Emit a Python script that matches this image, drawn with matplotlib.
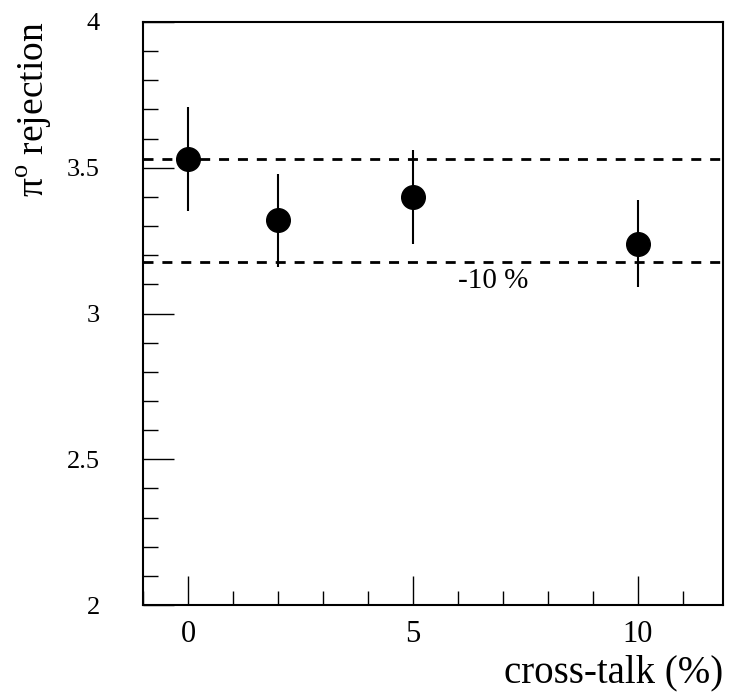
import numpy as np
import matplotlib
matplotlib.use("Agg")
import matplotlib.pyplot as plt
from matplotlib.ticker import MultipleLocator

plt.rcParams['font.family'] = ['Liberation Serif', 'DejaVu Serif']
plt.rcParams['mathtext.fontset'] = 'custom'
plt.rcParams['mathtext.rm'] = 'Liberation Serif'

# data
crosstalk = [0, 2, 5, 10]
rejection = [3.53, 3.32, 3.40, 3.24]
rej_err = [0.18, 0.16, 0.16, 0.15]
ref_level = 3.53
minus10 = 0.9 * ref_level

fig = plt.figure(figsize=(7.29, 6.98), dpi=100)
ax = fig.add_axes([143 / 729, 93 / 698, 580 / 729, 583 / 698])

ax.errorbar(crosstalk, rejection, yerr=rej_err, fmt='o', color='black',
            markersize=17, elinewidth=1.5, capsize=0, zorder=3)

for lvl in (ref_level, minus10):
    ln = ax.axhline(lvl, color='black', lw=2, zorder=2)
    ln.set_dashes([3.6, 3.2])

ax.text(6.0, minus10 - 0.02, '-10 %', fontsize=21, ha='left', va='top')

ax.set_xlim(-1, 11.9)
ax.set_ylim(2, 4)
ax.xaxis.set_major_locator(MultipleLocator(5))
ax.xaxis.set_minor_locator(MultipleLocator(1))
ax.yaxis.set_major_locator(MultipleLocator(0.5))
ax.yaxis.set_minor_locator(MultipleLocator(0.1))
ax.yaxis.set_major_formatter(plt.FuncFormatter(lambda v, p: '%g' % v))

ax.tick_params(axis='both', which='both', direction='in', top=False, right=False,
               width=1.0, color='black')
ax.tick_params(axis='x', which='major', length=21, pad=10.5, labelsize=22)
ax.tick_params(axis='x', which='minor', length=10)
ax.tick_params(axis='y', which='major', length=22, pad=31, labelsize=19)
ax.tick_params(axis='y', which='minor', length=11)

for s in ax.spines.values():
    s.set_linewidth(1.5)

ax.set_xlabel('cross-talk (%)', fontsize=28, loc='right')
ax.xaxis.set_label_coords(1.0, -0.085)
ax.set_ylabel(r'π$^{\mathrm{o}}$ rejection', fontsize=27, loc='top')
ax.yaxis.set_label_coords(-0.153, 1.0)

fig.savefig('out.png', dpi=100)
